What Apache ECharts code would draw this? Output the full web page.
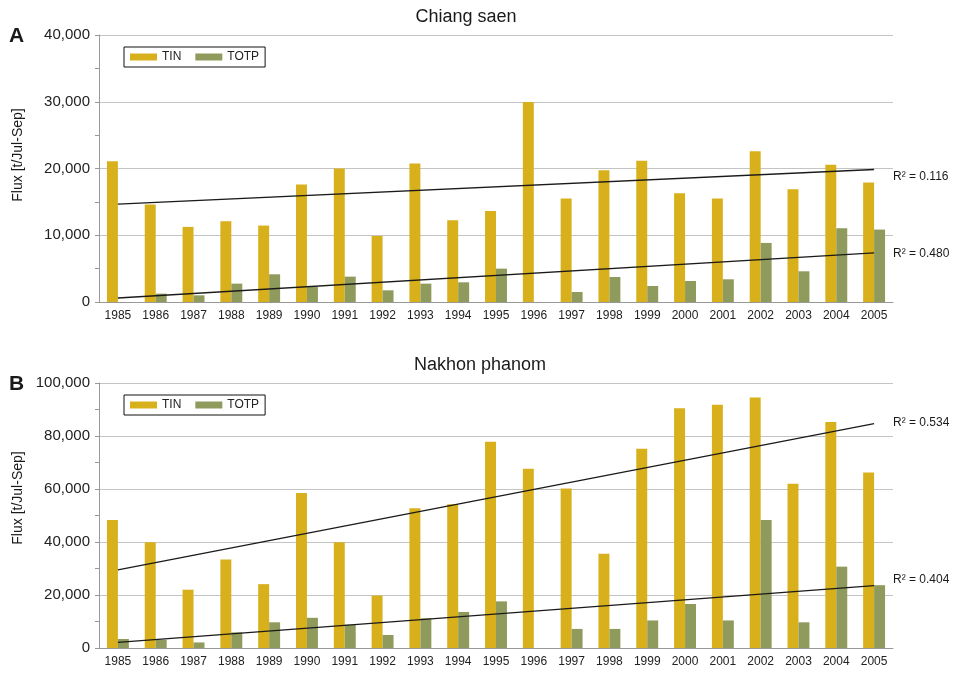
<!DOCTYPE html>
<html>
<head>
<meta charset="utf-8">
<script src="https://cdn.jsdelivr.net/npm/echarts@6/dist/echarts.min.js"></script>
<style>
  html, body { margin: 0; padding: 0; background: #fff; }
  #myChart { width: 954px; height: 674px; }
</style>
</head>
<body>
<div id="myChart"></div>
<script>
  // categories
  var years = ['1985', '1986', '1987', '1988', '1989', '1990', '1991', '1992', '1993', '1994', '1995',
    '1996', '1997', '1998', '1999', '2000', '2001', '2002', '2003', '2004', '2005']

  // A: Chiang saen
  var tinA = [21100, 14600, 11250, 12100, 11450, 17600, 20000, 9900, 20750, 12250, 13650,
    29950, 15500, 19750, 21150, 16300, 15500, 22600, 16900, 20550, 17900]
  var totpA = [0, 1250, 1000, 2750, 4150, 2250, 3800, 1750, 2750, 2950, 5000,
    0, 1500, 3750, 2400, 3150, 3400, 8850, 4600, 11050, 10850]
  var tinTrendA = [14650, 19850] // trend line ends (1985, 2005)
  var totpTrendA = [600, 7350]

  // B: Nakhon phanom
  var tinB = [48300, 39900, 22000, 33400, 24100, 58500, 39900, 19800, 52700, 54200, 77800,
    67600, 60200, 35600, 75200, 90500, 91800, 94500, 62000, 85300, 66200]
  var totpB = [3400, 3100, 2100, 5900, 9700, 11400, 8800, 4900, 11200, 13600, 17600,
    0, 7200, 7200, 10400, 16600, 10400, 48300, 9700, 30700, 23700]
  var tinTrendB = [29500, 84700]
  var totpTrendB = [2100, 23500]

  var r2A = ['R² = 0.116', 'R² = 0.480']
  var r2B = ['R² = 0.534', 'R² = 0.404']

  var tinColor = '#d8b01c'
  var totpColor = '#8f9b5c'
  var fontFam = '"Liberation Sans", Arial, sans-serif'

  // trend line: only the two end points, joined across the nulls
  function trend(ends) {
    var arr = years.map(function () { return null })
    arr[0] = ends[0]
    arr[arr.length - 1] = ends[1]
    return arr
  }

  function xAxis(idx) {
    return {
      type: 'category',
      gridIndex: idx,
      data: years,
      axisLine: { lineStyle: { color: '#999' } },
      axisTick: { length: 4, lineStyle: { color: '#999' } },
      axisLabel: { color: '#222', fontSize: 12, margin: 8, interval: 0 }
    }
  }

  function yAxis(idx, max, interval) {
    return {
      type: 'value',
      gridIndex: idx,
      min: 0,
      max: max,
      interval: interval,
      axisLine: { show: true, lineStyle: { color: '#999' } },
      axisTick: { show: true, length: 4, lineStyle: { color: '#999' } },
      minorTick: { show: true, splitNumber: 2, length: 4, lineStyle: { color: '#999' } },
      splitLine: { lineStyle: { color: '#c4c4c4' } },
      axisLabel: {
        color: '#222',
        fontSize: 15,
        margin: 9,
        formatter: function (v) { return v.toLocaleString('en-US') }
      }
    }
  }

  function bars(name, data, color, idx) {
    return {
      name: name,
      type: 'bar',
      xAxisIndex: idx,
      yAxisIndex: idx,
      data: data,
      barGap: '0%',
      barCategoryGap: '42%',
      itemStyle: { color: color }
    }
  }

  function trendLine(name, ends, idx) {
    return {
      name: name,
      type: 'line',
      xAxisIndex: idx,
      yAxisIndex: idx,
      data: trend(ends),
      connectNulls: true,
      symbol: 'none',
      silent: true,
      z: 5,
      lineStyle: { color: '#1a1a1a', width: 1.3 }
    }
  }

  function legend(top) {
    return {
      data: ['TIN', 'TOTP'],
      left: 124,
      top: top,
      icon: 'rect',
      itemWidth: 27,
      itemHeight: 7,
      itemGap: 14,
      padding: [4, 6, 4, 6],
      borderColor: '#111',
      borderWidth: 1,
      itemStyle: { borderWidth: 0 },
      textStyle: { color: '#222', fontSize: 12 }
    }
  }

  function text(x, y, str, size, extra) {
    var style = { text: str, fill: '#1a1a1a', fontSize: size, fontFamily: fontFam }
    for (var k in extra) style[k] = extra[k]
    return { type: 'text', x: x, y: y, style: style, z: 10 }
  }

  var myChart = echarts.init(document.getElementById('myChart'))
  var option = {
    animation: false,
    textStyle: { fontFamily: fontFam },
    grid: [
      { left: 99, right: 61, top: 35, height: 267 },
      { left: 99, right: 61, top: 383, height: 265 }
    ],
    legend: [legend(47), legend(395)],
    xAxis: [xAxis(0), xAxis(1)],
    yAxis: [yAxis(0, 40000, 10000), yAxis(1, 100000, 20000)],
    series: [
      bars('TIN', tinA, tinColor, 0),
      bars('TOTP', totpA, totpColor, 0),
      bars('TIN', tinB, tinColor, 1),
      bars('TOTP', totpB, totpColor, 1),
      trendLine('TIN trend A', tinTrendA, 0),
      trendLine('TOTP trend A', totpTrendA, 0),
      trendLine('TIN trend B', tinTrendB, 1),
      trendLine('TOTP trend B', totpTrendB, 1)
    ],
    graphic: [
      text(466, 17, 'Chiang saen', 18, { textAlign: 'center', textVerticalAlign: 'middle' }),
      text(480, 365, 'Nakhon phanom', 18, { textAlign: 'center', textVerticalAlign: 'middle' }),
      text(9, 36, 'A', 21, { textVerticalAlign: 'middle', fontWeight: 'bold' }),
      text(9, 384, 'B', 21, { textVerticalAlign: 'middle', fontWeight: 'bold' }),
      {
        type: 'text', x: 18, y: 155, rotation: Math.PI / 2, z: 10,
        style: { text: 'Flux [t/Jul-Sep]', fill: '#1a1a1a', fontSize: 14, fontFamily: fontFam, textAlign: 'center', textVerticalAlign: 'middle' }
      },
      {
        type: 'text', x: 18, y: 498, rotation: Math.PI / 2, z: 10,
        style: { text: 'Flux [t/Jul-Sep]', fill: '#1a1a1a', fontSize: 14, fontFamily: fontFam, textAlign: 'center', textVerticalAlign: 'middle' }
      },
      text(893, 177, r2A[0], 12, { textVerticalAlign: 'middle' }),
      text(893, 254, r2A[1], 12, { textVerticalAlign: 'middle' }),
      text(893, 423, r2B[0], 12, { textVerticalAlign: 'middle' }),
      text(893, 580, r2B[1], 12, { textVerticalAlign: 'middle' })
    ]
  }

  myChart.setOption(option)
</script>
</body>
</html>
